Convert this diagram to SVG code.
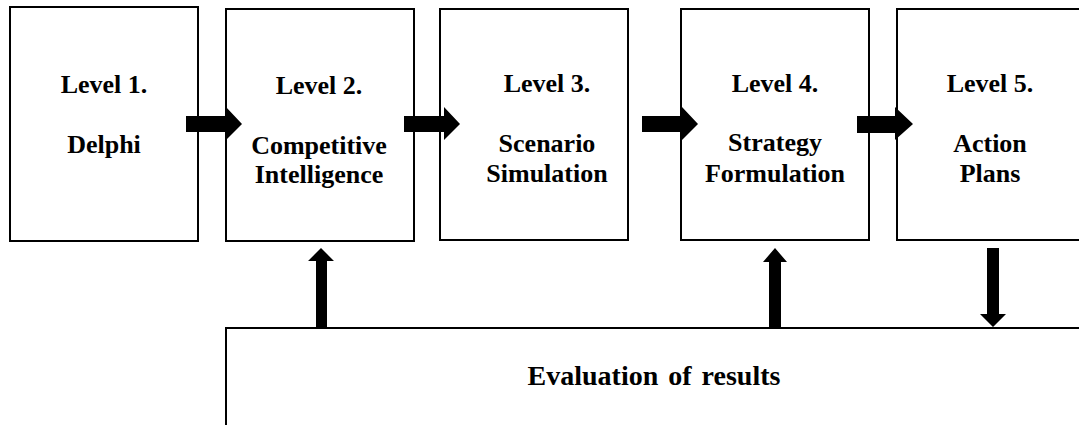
<svg xmlns="http://www.w3.org/2000/svg" width="1079" height="425" viewBox="0 0 1079 425">
<style>
.box{fill:#fff;stroke:#000;stroke-width:2}
.t{font-weight:bold;font-size:26px;fill:#000;text-anchor:middle}
.arr{fill:#000}
</style>
<rect width="1079" height="425" fill="#fff"/>
<g font-family="'Liberation Serif', 'Times New Roman', 'DejaVu Serif', serif">
<g id="n1"><rect class="box" x="10" y="7" width="188" height="234"/>
<text class="t" x="104" y="93">Level 1.</text>
<text class="t" x="104" y="153">Delphi</text></g>
<g id="n2"><rect class="box" x="226" y="9" width="188" height="232"/>
<text class="t" x="319" y="94">Level 2.</text>
<text class="t" x="319" y="154">Competitive</text>
<text class="t" x="319" y="183">Intelligence</text></g>
<g id="n3"><rect class="box" x="440" y="9" width="188" height="231"/>
<text class="t" x="547" y="92">Level 3.</text>
<text class="t" x="547" y="152">Scenario</text>
<text class="t" x="547" y="182">Simulation</text></g>
<g id="n4"><rect class="box" x="681" y="9" width="188" height="231"/>
<text class="t" x="775" y="92">Level 4.</text>
<text class="t" x="775" y="151">Strategy</text>
<text class="t" x="775" y="182">Formulation</text></g>
<g id="n5"><rect class="box" x="897" y="9" width="200" height="231"/>
<text class="t" x="990" y="92">Level 5.</text>
<text class="t" x="990" y="152">Action</text>
<text class="t" x="990" y="182">Plans</text></g>
<g id="n6"><rect class="box" x="226" y="328" width="880" height="120"/>
<text class="t" x="654" y="385" style="font-size:28px;word-spacing:3px">Evaluation of results</text></g>
</g>
<g id="connectors">
<polygon class="arr" points="186,116 226,116 226,107 242,124 226,140 226,132 186,132"/>
<polygon class="arr" points="404,116 444,116 444,107 460,124 444,140 444,132 404,132"/>
<polygon class="arr" points="642,116 682,116 682,107 698,124 682,140 682,132 642,132"/>
<polygon class="arr" points="857,116 895,116 895,107 913,124 895,140 895,133 857,133"/>
<polygon class="arr" points="316,327 316,261 308,261 321,248 334,261 327,261 327,327"/>
<polygon class="arr" points="769,327 769,262 763,262 775,248 787,262 781,262 781,327"/>
<polygon class="arr" points="987,248 999,248 999,314 1006,314 993,327 980,314 987,314"/>
</g>
</svg>
